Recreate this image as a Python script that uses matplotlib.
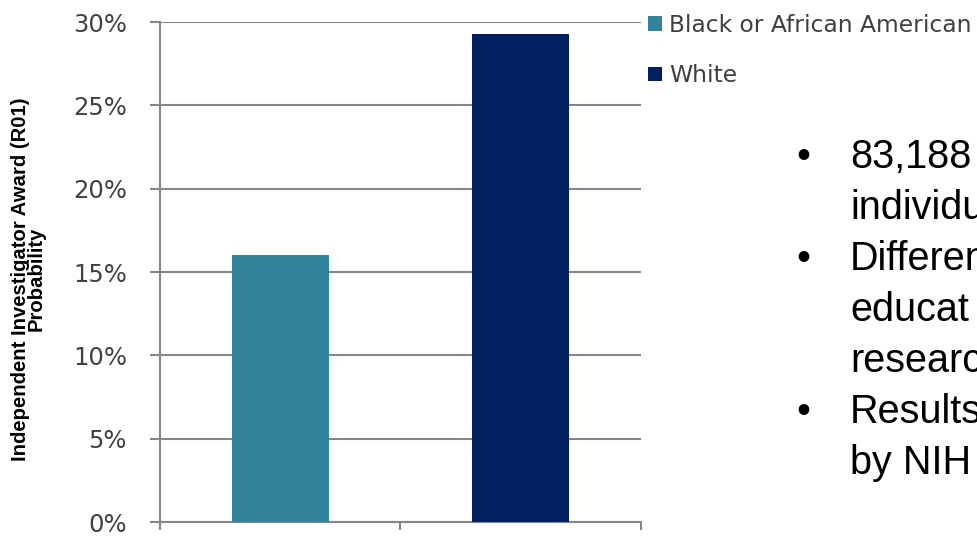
import matplotlib
matplotlib.use('Agg')
import matplotlib.pyplot as plt
from matplotlib.ticker import PercentFormatter

# data
groups = ["Black or African American", "White"]
probability = [0.160, 0.293]
bar_colors = ["#31849B", "#002060"]
y_ticks = [0.0, 0.05, 0.10, 0.15, 0.20, 0.25, 0.30]

# bullet text on the right, as far as it shows before the slide edge
bullet_lines = [
    ("\u2022", "83,188"),
    ("", "individu"),
    ("\u2022", "Differen"),
    ("", "educat"),
    ("", "researc"),
    ("\u2022", "Results"),
    ("", "by NIH"),
]

W, H = 978, 537
fig = plt.figure(figsize=(W / 100, H / 100), dpi=100)
ax = fig.add_axes([160 / W, 15 / H, 481 / W, 500 / H])

x_pos = [0.5, 1.5]
bars = ax.bar(x_pos, probability, width=0.404, color=bar_colors, zorder=3)
for b, lab in zip(bars, groups):
    b.set_label(lab)

grey = '#868686'
ax.set_xlim(0, 2)
ax.set_ylim(0, 0.30)
ax.set_yticks(y_ticks)
ax.yaxis.set_major_formatter(PercentFormatter(1.0, decimals=0))
ax.set_xticks([0, 1, 2])
ax.set_xticklabels([])
ax.grid(axis='y', color=grey, linewidth=1.5, zorder=0)
ax.set_axisbelow(True)
for s in ['top', 'right']:
    ax.spines[s].set_visible(False)
for s in ['left', 'bottom']:
    ax.spines[s].set_color(grey)
    ax.spines[s].set_linewidth(1.5)
ax.tick_params(axis='y', length=7.2, width=1.5, color=grey, pad=16.5,
               labelsize=17.5, labelcolor='#404040')
ax.tick_params(axis='x', length=6, width=1.5, color=grey)

ax.set_ylabel("Independent Investigator Award (R01)\nProbability",
              fontsize=14.6, fontweight='bold', family='Liberation Sans',
              linespacing=0.8)
ax.yaxis.set_label_coords(-114 / 481, 0.486)

fig.legend(handles=list(bars), loc='upper left',
           bbox_to_anchor=(648 / W, 1 - 14 / H), frameon=False,
           handlelength=0.6, handleheight=0.6, handletextpad=0.3,
           labelspacing=1.17, borderaxespad=0, borderpad=0,
           prop={'family': 'DejaVu Sans', 'size': 16.8}, labelcolor='#404040')

base0 = 168
for i, (bullet, line) in enumerate(bullet_lines):
    yy = 1 - (base0 + i * 51) / H
    if bullet:
        fig.text(803 / W, yy, bullet, fontsize=28.5, family='Liberation Sans',
                 va='baseline', ha='center')
    fig.text(850 / W, yy, line, fontsize=28.5, family='Liberation Sans',
             va='baseline', ha='left')

fig.savefig("out.png", dpi=100)
